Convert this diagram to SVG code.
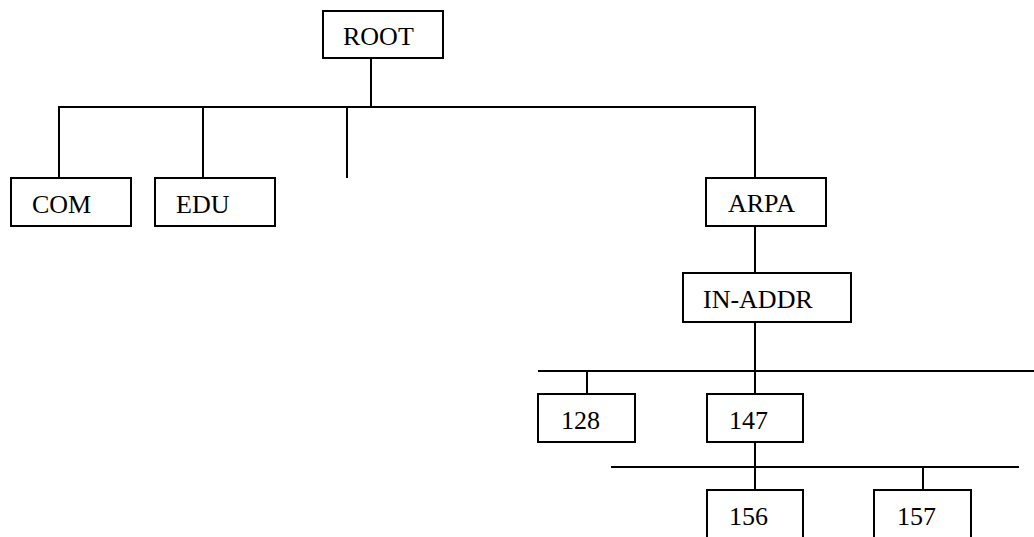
<svg xmlns="http://www.w3.org/2000/svg" width="1034" height="537" viewBox="0 0 1034 537">
  <style>
    .box { fill: #ffffff; stroke: #000000; stroke-width: 2; }
    .lbl { font-family: "Liberation Serif", "Times New Roman", serif; font-size: 26px; fill: #000000; }
    .wire { stroke: #000000; stroke-width: 2; fill: none; }
  </style>
  <rect width="1034" height="537" fill="#ffffff"/>

  <!-- tree connectors -->
  <g id="connectors" class="wire">
    <line x1="371" y1="58" x2="371" y2="107"/>
    <line x1="58" y1="107" x2="756" y2="107"/>
    <line x1="59" y1="107" x2="59" y2="178"/>
    <line x1="203" y1="107" x2="203" y2="178"/>
    <line x1="347" y1="107" x2="347" y2="178"/>
    <line x1="755" y1="107" x2="755" y2="178"/>
    <line x1="755" y1="226" x2="755" y2="273"/>
    <line x1="755" y1="322" x2="755" y2="394"/>
    <line x1="538" y1="371" x2="1034" y2="371"/>
    <line x1="587" y1="371" x2="587" y2="394"/>
    <line x1="755" y1="442" x2="755" y2="490"/>
    <line x1="611" y1="467" x2="1019" y2="467"/>
    <line x1="923" y1="467" x2="923" y2="490"/>
  </g>

  <g id="root">
    <rect class="box" x="323" y="11" width="120" height="47"/>
    <text class="lbl" x="343" y="45">ROOT</text>
  </g>
  <g id="com">
    <rect class="box" x="11" y="178" width="120" height="48"/>
    <text class="lbl" x="32" y="213">COM</text>
  </g>
  <g id="edu">
    <rect class="box" x="155" y="178" width="120" height="48"/>
    <text class="lbl" x="176" y="213">EDU</text>
  </g>
  <g id="arpa">
    <rect class="box" x="706" y="178" width="120" height="48"/>
    <text class="lbl" x="728" y="212">ARPA</text>
  </g>
  <g id="in-addr">
    <rect class="box" x="683" y="273" width="168" height="49"/>
    <text class="lbl" x="703" y="308">IN-ADDR</text>
  </g>
  <g id="n128">
    <rect class="box" x="538" y="394" width="97" height="48"/>
    <text class="lbl" x="561" y="429">128</text>
  </g>
  <g id="n147">
    <rect class="box" x="707" y="394" width="96" height="48"/>
    <text class="lbl" x="729" y="429">147</text>
  </g>
  <g id="n156">
    <rect class="box" x="707" y="490" width="96" height="60"/>
    <text class="lbl" x="729" y="525">156</text>
  </g>
  <g id="n157">
    <rect class="box" x="874" y="490" width="97" height="60"/>
    <text class="lbl" x="897" y="525">157</text>
  </g>
</svg>
